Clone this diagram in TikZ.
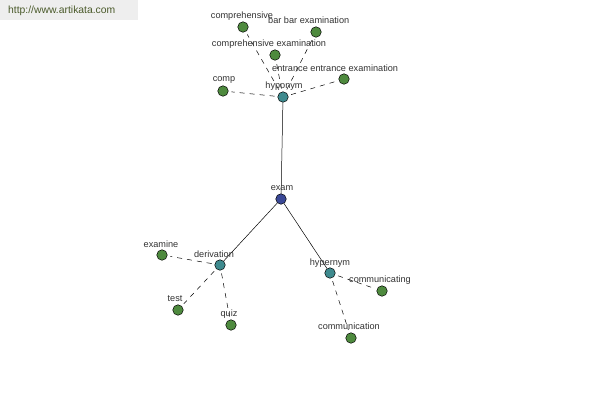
\documentclass[tikz,border=0pt]{standalone}
\usepackage{fontspec}
\setmainfont{Liberation Sans}
\begin{document}
\begin{tikzpicture}[x=1bp,y=-1bp,
  dot/.style={circle,draw=black,line width=0.5pt,minimum size=10.5bp,inner sep=0pt},
  leaf/.style={dot,fill=leafgreen},
  rel/.style={dot,fill=relteal},
  root/.style={dot,fill=rootblue},
  lbl/.style={font=\fontsize{9.2}{10}\selectfont,text=labelgray,inner sep=0pt},
  solidedge/.style={draw=black,line width=0.5pt},
  dashedge/.style={draw=black,line width=0.5pt,dash pattern=on 5bp off 5bp,shorten <=3bp,shorten >=3bp}]
\definecolor{leafgreen}{HTML}{4E8A3E}
\definecolor{relteal}{HTML}{3E8A8E}
\definecolor{rootblue}{HTML}{3A4896}
\definecolor{labelgray}{HTML}{333333}
\definecolor{wmgray}{HTML}{EEEEEE}
\definecolor{wmtext}{HTML}{4A5A2A}
\useasboundingbox[fill=white] (0,0) rectangle (600,400);
\fill[wmgray] (0,0) rectangle (138,20);
\node[font=\fontsize{10.4}{11}\selectfont,text=wmtext,anchor=west,inner sep=0pt] (wm) at (8,11) {http://www.artikata.com};
% nodes
\node[root] (exam) at (281,199) {};
\node[rel] (hypo) at (283,97) {};
\node[rel] (deriv) at (220,265) {};
\node[rel] (hyper) at (330,273) {};
\node[leaf] (compr) at (243,27) {};
\node[leaf] (barbar) at (316,32) {};
\node[leaf] (comprex) at (275,55) {};
\node[leaf] (entr) at (344,79) {};
\node[leaf] (comp) at (223,91) {};
\node[leaf] (examine) at (162,255) {};
\node[leaf] (test) at (178,310) {};
\node[leaf] (quiz) at (231,325) {};
\node[leaf] (communicating) at (382,291) {};
\node[leaf] (communication) at (351,338) {};
% edges
\draw[solidedge] (exam) -- (hypo);
\draw[solidedge] (exam) -- (deriv);
\draw[solidedge] (exam) -- (hyper);
\draw[dashedge] (hypo) -- (compr);
\draw[dashedge] (hypo) -- (barbar);
\draw[dashedge] (hypo) -- (comprex);
\draw[dashedge] (hypo) -- (entr);
\draw[dashedge] (hypo) -- (comp);
\draw[dashedge] (deriv) -- (examine);
\draw[dashedge] (deriv) -- (test);
\draw[dashedge] (deriv) -- (quiz);
\draw[dashedge] (hyper) -- (communicating);
\draw[dashedge] (hyper) -- (communication);
% labels
\node[lbl] (l1) at (242,16) {comprehensive};
\node[lbl,anchor=west] (l2) at (268,20) {bar bar examination};
\node[lbl] (l3) at (269,44) {comprehensive examination};
\node[lbl,anchor=west] (l4) at (272,68) {entrance entrance examination};
\node[lbl] (l5) at (224,80) {comp};
\node[lbl] (l6) at (284,86) {hyponym};
\node[lbl] (l7) at (282,188) {exam};
\node[lbl] (l8) at (161,244) {examine};
\node[lbl] (l9) at (214,254) {derivation};
\node[lbl] (l10) at (175,299) {test};
\node[lbl] (l11) at (229,314) {quiz};
\node[lbl] (l12) at (330,263) {hypernym};
\node[lbl] (l13) at (380,280) {communicating};
\node[lbl] (l14) at (349,326) {communication};
\end{tikzpicture}
\end{document}
